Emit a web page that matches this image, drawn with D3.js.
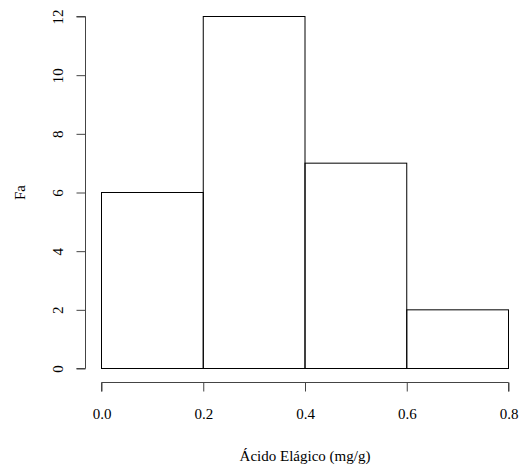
<!DOCTYPE html>
<html><head><meta charset="utf-8">
<script src="https://cdn.jsdelivr.net/npm/d3@7"></script>
<style>body{margin:0;background:#fff}svg{display:block}</style>
</head><body>
<script>
const binStarts = [0.0, 0.2, 0.4, 0.6];
const binEnds = [0.2, 0.4, 0.6, 0.8];
const counts = [6, 12, 7, 2];
const xTicks = [0.0, 0.2, 0.4, 0.6, 0.8];
const yTicks = [0, 2, 4, 6, 8, 10, 12];
const xLabel = "Ácido Elágico (mg/g)";
const yLabel = "Fa";

const FONT = "'Liberation Serif', 'Times New Roman', Times, 'DejaVu Serif', serif";
const W = 522, H = 468;
const svg = d3.select("body").append("svg").attr("width", W).attr("height", H)
  .style("font-family", FONT);
const x = d3.scaleLinear().domain([0, 0.8]).range([101.5, 508.5]);
const y = d3.scaleLinear().domain([0, 12]).range([368.5, 16.5]);
const fs = 15;

svg.append("g").selectAll("rect").data(counts).join("rect")
  .attr("x", (d,i) => x(binStarts[i]))
  .attr("y", d => y(d))
  .attr("width", (d,i) => x(binEnds[i]) - x(binStarts[i]))
  .attr("height", d => y(0) - y(d))
  .attr("fill", "none").attr("stroke", "#000").attr("stroke-width", 1);

const xa = svg.append("g").attr("transform", "translate(0,382.5)")
  .call(d3.axisBottom(x).tickValues(xTicks).tickFormat(d3.format(".1f")).tickSize(9).tickPadding(17));
xa.attr("font-family", null);
xa.select(".domain").attr("d", `M${x(0)},9V0H${x(0.8)}V9`).attr("stroke", "#444");
xa.selectAll(".tick line").attr("stroke", "#444");
xa.selectAll(".tick text").attr("font-size", fs).style("font-family", FONT).attr("fill", "#000");

const ya = svg.append("g").attr("transform", "translate(85.5,0)")
  .call(d3.axisLeft(y).tickValues(yTicks).tickSize(9).tickPadding(0));
ya.attr("font-family", null);
ya.select(".domain").attr("d", `M-9,${y(0)}H0V${y(12)}H-9`).attr("stroke", "#444");
ya.selectAll(".tick line").attr("stroke", "#444");
ya.selectAll(".tick text").attr("font-size", fs).style("font-family", FONT).attr("fill", "#000")
  .attr("x", 0).attr("dy", null).attr("y", 0)
  .attr("text-anchor", "middle")
  .attr("transform", "translate(-23,0) rotate(-90)");

svg.append("text").attr("x", (x(0)+x(0.8))/2).attr("y", 461)
  .attr("text-anchor", "middle").attr("font-size", fs).style("font-family", FONT).text(xLabel);
svg.append("text").attr("transform", `translate(25,${(y(0)+y(12))/2}) rotate(-90)`)
  .attr("text-anchor", "middle").attr("font-size", fs).style("font-family", FONT).text(yLabel);
</script>
</body></html>
